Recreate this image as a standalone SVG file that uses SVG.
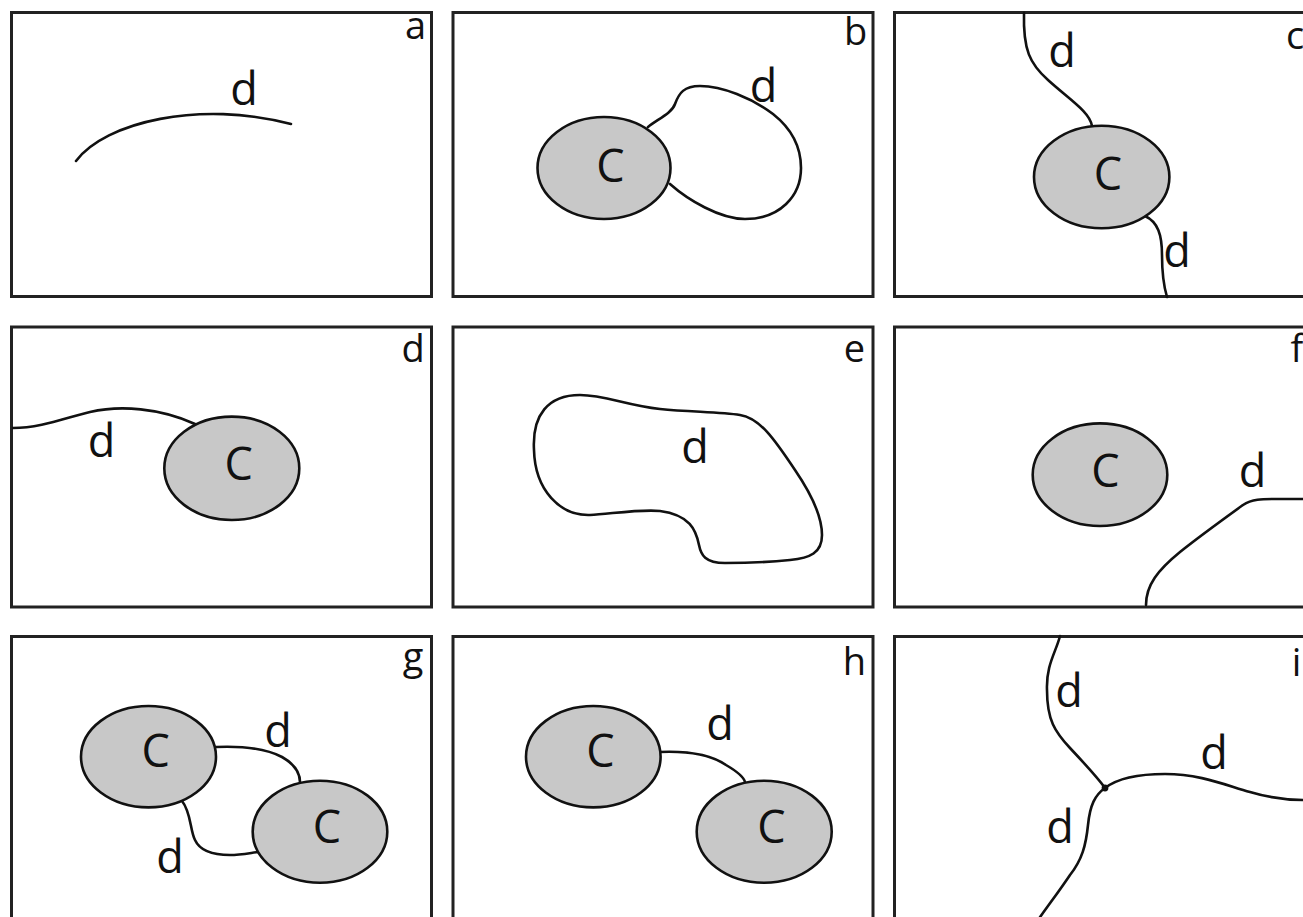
<svg xmlns="http://www.w3.org/2000/svg" width="1303" height="917" viewBox="0 0 1303 917">
<style>
.frame{fill:#fff;stroke:#222;stroke-width:3}
.cell{fill:#c8c8c8;stroke:#111;stroke-width:2.6}
.edge{fill:none;stroke:#111;stroke-width:2.6;stroke-linecap:round;stroke-linejoin:round}
.lbl{font-family:"Open Sans","Noto Sans","Liberation Sans",sans-serif;font-size:45px;fill:#111;text-anchor:middle}
.tag{font-family:"Open Sans","Noto Sans","Liberation Sans",sans-serif;font-size:38px;fill:#111;text-anchor:middle}
</style>
<rect width="1303" height="917" fill="#fff"/>
<g id="frames">
<rect class="frame" x="11.5" y="12.5" width="420" height="284"/>
<rect class="frame" x="453" y="12.5" width="420" height="284"/>
<rect class="frame" x="894.5" y="12.5" width="420" height="284"/>
<rect class="frame" x="11.5" y="327" width="420" height="280"/>
<rect class="frame" x="453" y="327" width="420" height="280"/>
<rect class="frame" x="894.5" y="327" width="420" height="280"/>
<rect class="frame" x="11.5" y="636.5" width="420" height="300"/>
<rect class="frame" x="453" y="636.5" width="420" height="300"/>
<rect class="frame" x="894.5" y="636.5" width="420" height="300"/>
</g>
<g id="tags">
<text class="tag" x="415.5" y="39">a</text>
<text class="tag" x="855.5" y="45">b</text>
<text class="tag" x="1295" y="49">c</text>
<text class="tag" x="413" y="362">d</text>
<text class="tag" x="854.5" y="362">e</text>
<text class="tag" x="1297" y="362">f</text>
<text class="tag" x="413" y="670">g</text>
<text class="tag" x="854.5" y="675">h</text>
<text class="tag" x="1296.5" y="676">i</text>
</g>
<g id="connectors">
<path class="edge" d="M76,161 C105,122 200,100 291,124"/>
<path class="edge" d="M648,127 C658,119 672,113 675,104 C679,93 684,86 700,86 C722,86 752,98 773,114 C792,129 801,148 801,168 C801,196 780,219 745,219 C720,219 688,200 670,184"/>
<path class="edge" d="M1024,13 C1023,50 1030,64 1048,80 C1070,100 1090,112 1092,126"/>
<path class="edge" d="M1145,216 C1158,222 1162,235 1162,255 C1162,275 1164,287 1167,297"/>
<path class="edge" d="M13,428 C40,428 65,418 90,412 C120,405 160,408 195,424"/>
<path class="edge" d="M534,450 C532,415 548,395 580,395 C605,395 625,405 660,409 C690,412 720,412 740,415 C760,418 775,440 795,470 C810,492 822,515 822,535 C822,553 810,558 790,560 C770,562 745,563 725,563 C705,563 701,555 699,545 C696,530 690,515 660,511 C640,509 610,514 590,515 C560,516 535,490 534,450 Z"/>
<path class="edge" d="M1146,605 C1146,585 1158,570 1180,552 C1200,536 1225,518 1243,505 C1252,499 1262,499 1275,499 L1305,499"/>
<path class="edge" d="M216,747 C240,746 265,748 282,757 C296,765 300,775 300,782"/>
<path class="edge" d="M182,801 C191,812 190,830 195,840 C200,851 212,855 230,855 C240,855 250,853 258,852"/>
<path class="edge" d="M660,752 C685,751 710,754 726,765 C738,772 744,778 745,782"/>
<path class="edge" d="M1060,636 C1056,652 1046,665 1047,690 C1047,720 1055,732 1070,748 C1085,764 1098,778 1105,788"/>
<path class="edge" d="M1105,788 C1118,778 1140,774 1165,774 C1200,774 1225,785 1250,792 C1270,798 1290,800 1305,800"/>
<path class="edge" d="M1105,788 C1095,795 1090,805 1088,825 C1086,845 1082,860 1070,875 C1060,890 1050,903 1038,920"/>
<circle cx="1105" cy="788" r="3.4" fill="#111"/>
<text class="lbl" x="244" y="105">d</text>
<text class="lbl" x="763.5" y="102">d</text>
<text class="lbl" x="1062" y="67">d</text>
<text class="lbl" x="1177" y="267">d</text>
<text class="lbl" x="101.5" y="457">d</text>
<text class="lbl" x="695" y="463">d</text>
<text class="lbl" x="1252.5" y="487">d</text>
<text class="lbl" x="278" y="747">d</text>
<text class="lbl" x="170" y="873">d</text>
<text class="lbl" x="720" y="740">d</text>
<text class="lbl" x="1069" y="707">d</text>
<text class="lbl" x="1214" y="769">d</text>
<text class="lbl" x="1060" y="843">d</text>
</g>
<g id="node-b-C"><ellipse class="cell" cx="604" cy="168" rx="66.5" ry="51"/><text class="lbl" x="610.5" y="182">C</text></g>
<g id="node-c-C"><ellipse class="cell" cx="1101.7" cy="177" rx="67.7" ry="51.3"/><text class="lbl" x="1108" y="190">C</text></g>
<g id="node-d-C"><ellipse class="cell" cx="231.8" cy="468.3" rx="67.5" ry="51.7"/><text class="lbl" x="238.7" y="480">C</text></g>
<g id="node-f-C"><ellipse class="cell" cx="1100" cy="474.7" rx="67.3" ry="51.3"/><text class="lbl" x="1105.5" y="487">C</text></g>
<g id="node-g-C1"><ellipse class="cell" cx="148.5" cy="756.7" rx="67.5" ry="50.7"/><text class="lbl" x="155.7" y="767">C</text></g>
<g id="node-g-C2"><ellipse class="cell" cx="320" cy="831.7" rx="67.3" ry="51"/><text class="lbl" x="327" y="843">C</text></g>
<g id="node-h-C1"><ellipse class="cell" cx="593.3" cy="756.7" rx="67.3" ry="50.7"/><text class="lbl" x="600.5" y="767">C</text></g>
<g id="node-h-C2"><ellipse class="cell" cx="764.2" cy="831.7" rx="67.5" ry="51"/><text class="lbl" x="771.5" y="843">C</text></g>
</svg>
